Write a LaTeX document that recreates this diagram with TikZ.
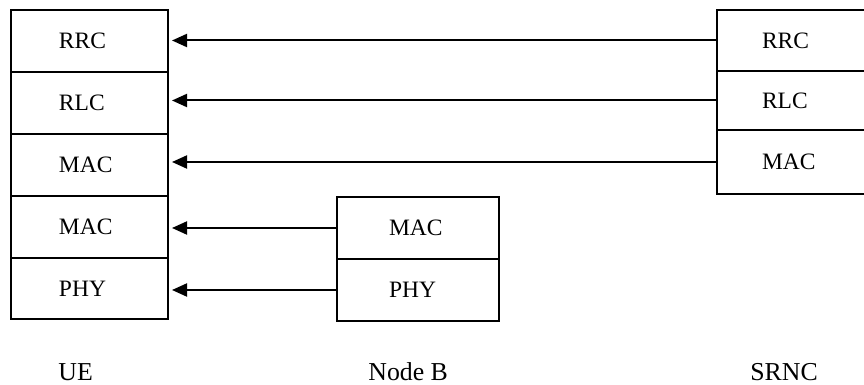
\documentclass[tikz,border=0pt]{standalone}
\usepackage{fontspec}
\setmainfont{Liberation Serif}
\usepackage{tikz}
\usetikzlibrary{arrows.meta}

\newcommand{\layerfont}{\fontsize{11.75pt}{14pt}\selectfont}
\newcommand{\entityfont}{\fontsize{12.9pt}{15pt}\selectfont}

\tikzset{
  layer/.style={draw, line width=1pt, rectangle, anchor=north west,
    align=left, inner ysep=0pt, minimum height=31pt, font=\layerfont},
  uelayer/.style={layer, text width=30.5pt, inner xsep=24pt},
  nblayer/.style={layer, text width=29pt, inner xsep=26pt},
  rnclayer/.style={layer, text width=31pt, inner xsep=22.5pt},
  peer/.style={line width=1pt, -{Triangle[length=7.5pt,width=6.5pt]}, shorten >=1.5pt},
  entity/.style={anchor=base west, inner sep=0pt, font=\entityfont}
}

\begin{document}
\begin{tikzpicture}[x=0.5pt,y=-0.5pt]
        \clip (0,0) rectangle (864,385);
        % UE stack
        \node[uelayer] (ue1) at (10,9)   {RRC};
        \node[uelayer] (ue2) at (10,71)  {RLC};
        \node[uelayer] (ue3) at (10,133) {MAC};
        \node[uelayer] (ue4) at (10,195) {MAC};
        \node[uelayer,minimum height=30.5pt] (ue5) at (10,257) {PHY};
        % Node B stack
        \node[nblayer] (nb1) at (336,196) {MAC};
        \node[nblayer] (nb2) at (336,258) {PHY};
        % SRNC stack
        \node[rnclayer,minimum height=30.5pt] (rnc1) at (716,9)  {RRC};
        \node[rnclayer,minimum height=29.5pt] (rnc2) at (716,70) {RLC};
        \node[rnclayer,minimum height=32pt]   (rnc3) at (716,129) {MAC};
        % peer links
        \draw[peer] (rnc1.west) -- (rnc1.west -| ue1.east);
        \draw[peer] (rnc2.west) -- (rnc2.west -| ue2.east);
        \draw[peer] (rnc3.west) -- (rnc3.west -| ue3.east);
        \draw[peer] (nb1.west) -- (nb1.west -| ue4.east);
        \draw[peer] (nb2.west) -- (nb2.west -| ue5.east);
        % entity names
        \node[entity] (uename)  at (58,380)  {UE};
        \node[entity] (nbname)  at (368,380) {Node B};
        \node[entity] (rncname) at (750,380) {SRNC};
      \end{tikzpicture}
\end{document}
